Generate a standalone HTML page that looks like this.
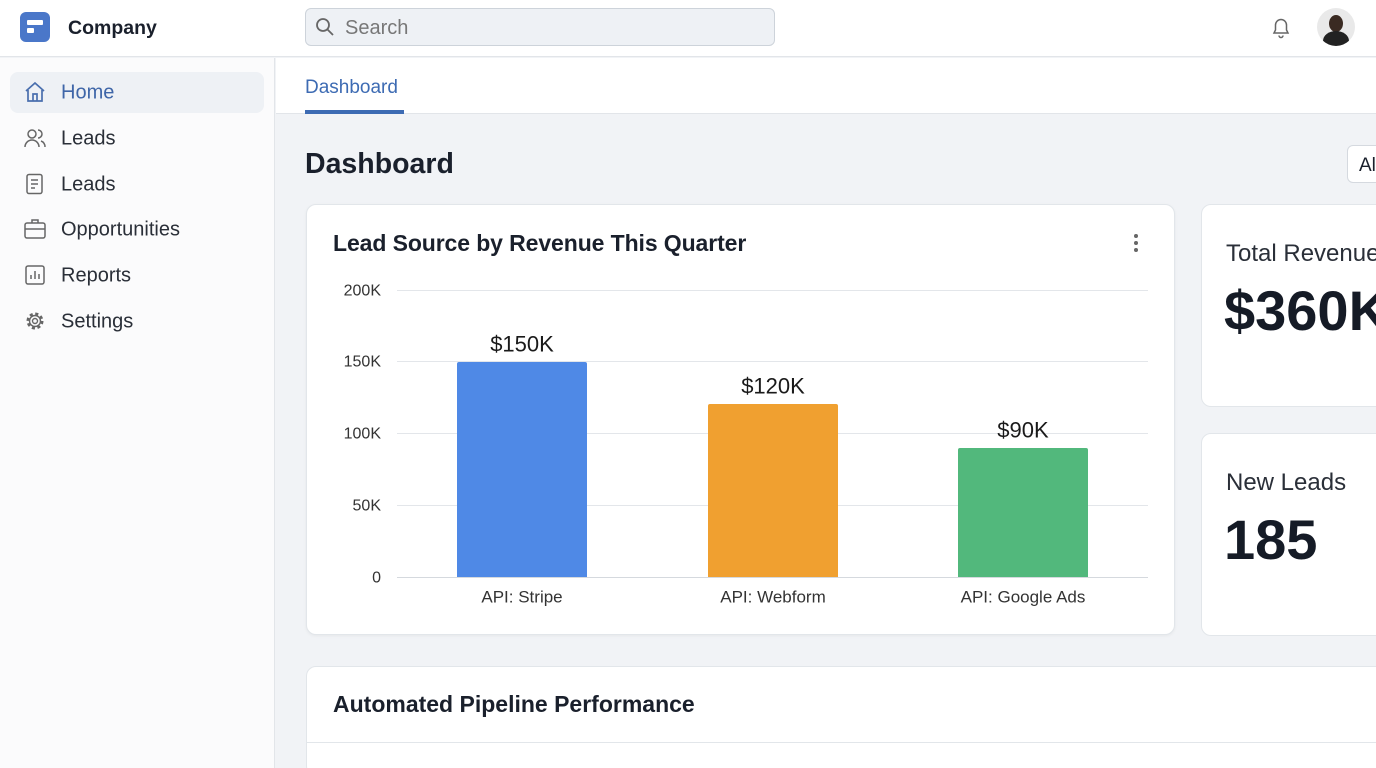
<!DOCTYPE html>
<html style="overflow:hidden"><head><style>
*{margin:0;padding:0;box-sizing:border-box}
html,body{width:1376px;height:768px;overflow:hidden}
body{background:#f1f3f6;font-family:"Liberation Sans",sans-serif;color:#1a202c;position:relative}
.a{position:absolute}
.nav{position:absolute;left:61px;font-size:20px;color:#2a2f38;transform:translateY(-45%)}
.ic{position:absolute;left:24px;width:22px;height:22px;transform:translateY(-50%)}
.yl{position:absolute;right:995px;font-size:16px;color:#333;transform:translateY(-42%)}
.gl{position:absolute;left:397px;width:751px;height:1px;background:#e3e6ea}
.vl{position:absolute;font-size:22px;color:#1a1a1a;transform:translate(-50%,-45%)}
.xl{position:absolute;font-size:17px;color:#333;transform:translate(-50%,-42%)}
</style></head><body>
<div class="a" style="left:0;top:0;width:1376px;height:57px;background:#fff;border-bottom:1px solid #e2e5e9"></div>
<div class="a" style="left:20px;top:12px;width:30px;height:30px;background:#4a77c9;border-radius:6px"></div>
<div class="a" style="left:27px;top:20px;width:16px;height:5px;background:#fff;border-radius:1px"></div>
<div class="a" style="left:27px;top:28px;width:7px;height:5px;background:#fff;border-radius:1px"></div>
<div class="a" style="left:68px;top:17px;font-size:19.5px;font-weight:bold;color:#1a202c">Company</div>
<div class="a" style="left:305px;top:8px;width:470px;height:38px;background:#eef1f5;border:1px solid #cdd3da;border-radius:6px"></div>
<svg class="a" style="left:315px;top:17px" width="20" height="20"><circle cx="8" cy="8" r="6" fill="none" stroke="#666" stroke-width="1.8"/><line x1="12.5" y1="12.5" x2="18" y2="18" stroke="#666" stroke-width="1.8"/></svg>
<div class="a" style="left:345px;top:17px;font-size:20px;color:#777">Search</div>
<svg class="a" style="left:1270px;top:16px" width="22" height="24"><path d="M4 17 L5.5 14 V9 a5.5 5.5 0 0 1 11 0 V14 L18 17 Z" fill="none" stroke="#666" stroke-width="1.5"/><path d="M9 19.5 a2 2 0 0 0 4 0" fill="none" stroke="#666" stroke-width="1.5"/></svg>
<div class="a" style="left:1317px;top:8px;width:38px;height:38px;border-radius:50%;background:#e9e9e9;overflow:hidden"><div class="a" style="left:12px;top:7px;width:14px;height:17px;border-radius:50%;background:#3a2a22"></div><div class="a" style="left:6px;top:23px;width:26px;height:20px;border-radius:50%;background:#222"></div></div>
<div class="a" style="left:0;top:58px;width:275px;height:710px;background:#fbfbfc;border-right:1px solid #e2e5e9"></div>
<div class="a" style="left:10px;top:72px;width:254px;height:41px;background:#eef1f5;border-radius:8px"></div>
<svg class="ic" style="top:92px" viewBox="0 0 22 22"><path d="M2 10 L11 2 L20 10 M4 9 V20 H18 V9 M9 20 V13 H13 V20" fill="none" stroke="#4a6fae" stroke-width="1.7"/></svg>
<div class="nav" style="top:92px;color:#3f66a8">Home</div>
<svg class="ic" style="top:138px" viewBox="0 0 22 22"><circle cx="8" cy="7" r="4" fill="none" stroke="#666" stroke-width="1.5"/><path d="M1 20 a7 7 0 0 1 14 0 M14 3 a4 4 0 0 1 0 8 M17 14 a6 6 0 0 1 4 6" fill="none" stroke="#666" stroke-width="1.5"/></svg>
<div class="nav" style="top:138px">Leads</div>
<svg class="ic" style="top:184px" viewBox="0 0 22 22"><rect x="3" y="1.5" width="15" height="19" rx="2" fill="none" stroke="#666" stroke-width="1.5"/><path d="M7 7 H14 M7 11 H14 M7 15 H11" stroke="#666" stroke-width="1.5"/></svg>
<div class="nav" style="top:184px">Leads</div>
<svg class="ic" style="top:229px" viewBox="0 0 22 22"><rect x="1" y="5" width="20" height="15" rx="2" fill="none" stroke="#666" stroke-width="1.5"/><path d="M8 5 V2 H14 V5 M1 11 H21" fill="none" stroke="#666" stroke-width="1.5"/></svg>
<div class="nav" style="top:229px">Opportunities</div>
<svg class="ic" style="top:275px" viewBox="0 0 22 22"><rect x="2" y="2" width="18" height="18" rx="2" fill="none" stroke="#666" stroke-width="1.5"/><path d="M7 15 V11 M11 15 V7 M15 15 V10" stroke="#666" stroke-width="1.5"/></svg>
<div class="nav" style="top:275px">Reports</div>
<svg class="ic" style="top:321px" viewBox="0 0 22 22"><circle cx="11" cy="11" r="7" fill="none" stroke="#666" stroke-width="3" stroke-dasharray="3 2.5"/><circle cx="11" cy="11" r="5.5" fill="none" stroke="#666" stroke-width="1.4"/><circle cx="11" cy="11" r="2.5" fill="none" stroke="#666" stroke-width="1.4"/></svg>
<div class="nav" style="top:321px">Settings</div>
<div class="a" style="left:276px;top:58px;width:1100px;height:56px;background:#fff;border-bottom:1px solid #e2e5e9"></div>
<div class="a" style="left:305px;top:77px;font-size:19px;color:#3d6bb3">Dashboard</div>
<div class="a" style="left:305px;top:110px;width:99px;height:4px;background:#3d6bb3"></div>
<div class="a" style="left:305px;top:148px;font-size:28.5px;font-weight:bold;color:#1a202c">Dashboard</div>
<div class="a" style="left:1347px;top:145px;width:60px;height:38px;background:#fff;border:1px solid #d5d9df;border-radius:6px;font-size:19px;padding:9px 0 0 11px">All</div>
<div class="a" style="left:306px;top:204px;width:869px;height:431px;background:#fff;border:1px solid #e2e6ea;border-radius:10px;box-shadow:0 1px 3px rgba(0,0,0,.05)"></div>
<div class="a" style="left:333px;top:230px;font-size:23px;font-weight:bold;color:#1a202c;letter-spacing:-0.1px">Lead Source by Revenue This Quarter</div>
<div class="a" style="left:1134px;top:234px;width:4px;height:4px;border-radius:2px;background:#666;box-shadow:0 7px 0 #666,0 14px 0 #666"></div>
<div class="gl" style="top:290px"></div><div class="gl" style="top:361px"></div><div class="gl" style="top:433px"></div><div class="gl" style="top:505px"></div><div class="gl" style="top:577px;background:#d5d9de"></div>
<div class="yl" style="top:290px">200K</div><div class="yl" style="top:361px">150K</div><div class="yl" style="top:433px">100K</div><div class="yl" style="top:505px">50K</div><div class="yl" style="top:577px">0</div>
<div class="a" style="left:457px;top:362px;width:130px;height:215px;background:#4f89e6;border-radius:2px 2px 0 0"></div>
<div class="a" style="left:708px;top:404px;width:130px;height:173px;background:#f0a030;border-radius:2px 2px 0 0"></div>
<div class="a" style="left:958px;top:448px;width:130px;height:129px;background:#52b87c;border-radius:2px 2px 0 0"></div>
<div class="vl" style="left:522px;top:343px">$150K</div><div class="vl" style="left:773px;top:385px">$120K</div><div class="vl" style="left:1023px;top:429px">$90K</div>
<div class="xl" style="left:522px;top:596px">API: Stripe</div><div class="xl" style="left:773px;top:596px">API: Webform</div><div class="xl" style="left:1023px;top:596px">API: Google Ads</div>
<div class="a" style="left:1201px;top:204px;width:200px;height:203px;background:#fff;border:1px solid #e2e6ea;border-radius:10px"></div>
<div class="a" style="left:1226px;top:240px;font-size:24px;color:#2a2f38;white-space:nowrap">Total Revenue</div>
<div class="a" style="left:1224px;top:278px;font-size:56px;font-weight:bold;color:#151b26;white-space:nowrap">$360K</div>
<div class="a" style="left:1201px;top:433px;width:200px;height:203px;background:#fff;border:1px solid #e2e6ea;border-radius:10px"></div>
<div class="a" style="left:1226px;top:469px;font-size:24px;color:#2a2f38;white-space:nowrap">New Leads</div>
<div class="a" style="left:1224px;top:507px;font-size:56px;font-weight:bold;color:#151b26">185</div>
<div class="a" style="left:306px;top:666px;width:1100px;height:110px;background:#fff;border:1px solid #e2e6ea;border-radius:10px"></div>
<div class="a" style="left:333px;top:691px;font-size:23px;font-weight:bold;color:#1a202c">Automated Pipeline Performance</div>
<div class="a" style="left:306px;top:742px;width:1070px;height:1px;background:#e2e6ea"></div>
</body></html>
